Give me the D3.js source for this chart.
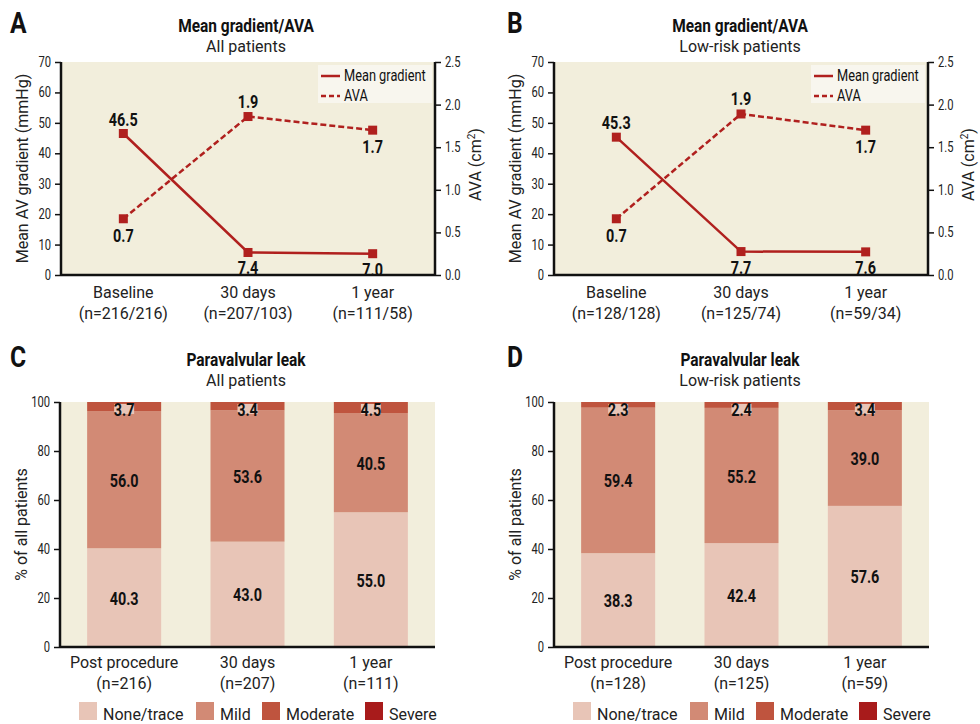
<!DOCTYPE html>
<html>
<head>
<meta charset="utf-8">
<script src="https://cdn.jsdelivr.net/npm/d3@7"></script>
<style>
  body { margin: 0; background: #fff; }
  svg { display: block; }
</style>
</head>
<body>
<div id="chart"></div>
<script>
// ---- data ----
const lineCats = ["Baseline", "30 days", "1 year"];
const lineNsAll = ["(n=216/216)", "(n=207/103)", "(n=111/58)"];
const lineNsLow = ["(n=128/128)", "(n=125/74)", "(n=59/34)"];
const gradientAll = [46.5, 7.4, 7.0];
const gradientLow = [45.3, 7.7, 7.6];
const avaAll = [0.66, 1.86, 1.70];
const avaLow = [0.66, 1.89, 1.70];
const leftTicks = [0, 10, 20, 30, 40, 50, 60, 70];
const rightTicks = [0, 0.5, 1.0, 1.5, 2.0, 2.5];

const barCats = ["Post procedure", "30 days", "1 year"];
const barNsAll = ["(n=216)", "(n=207)", "(n=111)"];
const barNsLow = ["(n=128)", "(n=125)", "(n=59)"];
const leakKeys = ["None/trace", "Mild", "Moderate", "Severe"];
const noneAll = [40.3, 43.0, 55.0];
const mildAll = [56.0, 53.6, 40.5];
const modAll = [3.7, 3.4, 4.5];
const sevAll = [0, 0, 0];
const noneLow = [38.3, 42.4, 57.6];
const mildLow = [59.4, 55.2, 39.0];
const modLow = [2.3, 2.4, 3.4];
const sevLow = [0, 0, 0];
const barTicks = [0, 20, 40, 60, 80, 100];

// ---- styles ----
const font = "Roboto, 'Liberation Sans', Arial, sans-serif";
const squeeze = 0.8; // fake a condensed face
const plotBg = "#f2eedc";
const red = "#b0201e";
const leakColors = ["#e8c5b7", "#d28a75", "#bf543e", "#a81b1b"];

const svg = d3.select("#chart").append("svg")
  .attr("width", 980).attr("height", 724);

// condensed text: squeezed horizontally around its anchor point
function ctext(x, y, txt, size, bold, anchor, k) {
  return svg.append("text")
    .attr("transform", `translate(${x},${y}) scale(${k || squeeze},1)`)
    .attr("text-anchor", anchor || "middle")
    .style("font-family", font).style("font-size", size + "px")
    .style("font-weight", bold ? "bold" : "normal")
    .attr("fill", "#111").text(txt);
}

function rtext(x, y, txt, anchor) {
  return svg.append("text").attr("x", x).attr("y", y).attr("text-anchor", anchor || "middle")
    .style("font-family", font).style("font-size", "16px").attr("fill", "#222").text(txt);
}

function panelHeader(letter, lx, ly, title, sub, cx, ty) {
  ctext(lx, ly, letter, 29, true, "start", 0.85);
  ctext(cx, ty, title, 18, true, "middle", 0.86);
  rtext(cx, ty + 20, sub);
}

function styleAxis(g, dir) {
  g.selectAll(".domain").attr("stroke", "#111").attr("stroke-width", 2.5);
  g.selectAll(".tick line").attr("stroke", "#111").attr("stroke-width", 1.5);
  g.selectAll(".tick text")
    .style("font-family", font).style("font-size", "14px").attr("fill", "#222")
    .attr("x", dir * 10 / squeeze)
    .attr("transform", `scale(${squeeze},1)`);
}

function catLabels(pos, cats, ns, y) {
  cats.forEach((c, i) => {
    const t = svg.append("text").attr("x", pos(c)).attr("y", y).attr("text-anchor", "middle")
      .style("font-family", font).style("font-size", "16px").attr("fill", "#222");
    t.append("tspan").attr("x", pos(c)).attr("dy", 0).text(c);
    t.append("tspan").attr("x", pos(c)).attr("dy", 21).text(ns[i]);
  });
}

function linePanel(o) {
  const x = d3.scalePoint().domain(lineCats).range([o.left, o.right]).padding(0.5);
  const yL = d3.scaleLinear().domain([0, 70]).range([o.bottom, o.top]);
  const yR = d3.scaleLinear().domain([0, 2.5]).range([o.bottom, o.top]);

  svg.append("rect").attr("x", o.left).attr("y", o.top)
    .attr("width", o.right - o.left).attr("height", o.bottom - o.top).attr("fill", plotBg);

  // legend box
  const lx = o.right - 117, ly = o.top + 3;
  svg.append("rect").attr("x", lx).attr("y", ly).attr("width", 114).attr("height", 38).attr("fill", "#f8f6ee");
  svg.append("line").attr("x1", lx + 3).attr("x2", lx + 22).attr("y1", ly + 11).attr("y2", ly + 11)
    .attr("stroke", red).attr("stroke-width", 2.5);
  svg.append("line").attr("x1", lx + 3).attr("x2", lx + 22).attr("y1", ly + 31).attr("y2", ly + 31)
    .attr("stroke", red).attr("stroke-width", 2.5).attr("stroke-dasharray", "5,3");
  ctext(lx + 26, ly + 16, "Mean gradient", 16, false, "start");
  ctext(lx + 26, ly + 36, "AVA", 16, false, "start");

  // lines
  const gLine = d3.line().x((d, i) => x(lineCats[i])).y(d => yL(d));
  const aLine = d3.line().x((d, i) => x(lineCats[i])).y(d => yR(d));
  svg.append("path").datum(o.ava).attr("d", aLine).attr("fill", "none")
    .attr("stroke", red).attr("stroke-width", 2.5).attr("stroke-dasharray", "6,3");
  svg.append("path").datum(o.grad).attr("d", gLine).attr("fill", "none")
    .attr("stroke", red).attr("stroke-width", 2.5);

  const sq = 9;
  o.grad.forEach((d, i) => {
    svg.append("rect").attr("x", x(lineCats[i]) - sq / 2).attr("y", yL(d) - sq / 2)
      .attr("width", sq).attr("height", sq).attr("fill", red);
  });
  o.ava.forEach((d, i) => {
    svg.append("rect").attr("x", x(lineCats[i]) - sq / 2).attr("y", yR(d) - sq / 2)
      .attr("width", sq).attr("height", sq).attr("fill", red);
  });

  // value labels
  o.grad.forEach((d, i) => {
    if (i === 0) ctext(x(lineCats[i]), yL(d) - 8, d.toFixed(1), 18, true);
    else ctext(x(lineCats[i]), yL(d) + 22, d.toFixed(1), 18, true);
  });
  o.ava.forEach((d, i) => {
    if (i === 1) ctext(x(lineCats[i]), yR(d) - 9, d.toFixed(1), 18, true);
    else ctext(x(lineCats[i]), yR(d) + 23, d.toFixed(1), 18, true);
  });

  // axes
  const ax = svg.append("g").attr("transform", `translate(${o.left},0)`)
    .call(d3.axisLeft(yL).tickValues(leftTicks).tickSize(6).tickPadding(4));
  styleAxis(ax, -1);
  ax.select(".domain").attr("d", `M0,${o.top}V${o.bottom}`);
  const ar = svg.append("g").attr("transform", `translate(${o.right},0)`)
    .call(d3.axisRight(yR).tickValues(rightTicks).tickFormat(d3.format(".1f")).tickSize(6).tickPadding(4));
  styleAxis(ar, 1);
  ar.select(".domain").attr("d", `M0,${o.top}V${o.bottom}`);
  svg.append("line").attr("x1", o.left).attr("x2", o.right).attr("y1", o.bottom).attr("y2", o.bottom)
    .attr("stroke", "#111").attr("stroke-width", 2.5);

  // axis titles
  svg.append("text").attr("transform", `translate(${o.left - 33},${(o.top + o.bottom) / 2}) rotate(-90)`)
    .attr("text-anchor", "middle").style("font-family", font).style("font-size", "16px").attr("fill", "#222")
    .text("Mean AV gradient (mmHg)");
  const rt = svg.append("text").attr("transform", `translate(${o.right + 46},${(o.top + o.bottom) / 2 - 4}) rotate(-90)`)
    .attr("text-anchor", "middle").style("font-family", font).style("font-size", "16px").attr("fill", "#222");
  rt.append("tspan").text("AVA (cm");
  rt.append("tspan").attr("dy", -6).style("font-size", "10px").text("2");
  rt.append("tspan").attr("dy", 6).text(")");

  catLabels(x, lineCats, o.ns, o.bottom + 23);
}

function barPanel(o) {
  const x = d3.scaleBand().domain(barCats).range([o.left, o.right]).paddingInner(0.4).paddingOuter(0.22);
  const y = d3.scaleLinear().domain([0, 100]).range([o.bottom, o.top]);
  const cx = d => x(d) + x.bandwidth() / 2;

  svg.append("rect").attr("x", o.left).attr("y", o.top)
    .attr("width", o.right - o.left).attr("height", o.bottom - o.top).attr("fill", plotBg);

  const rows = barCats.map((c, i) => ({
    cat: c, "None/trace": o.none[i], "Mild": o.mild[i], "Moderate": o.mod[i], "Severe": o.sev[i]
  }));
  const series = d3.stack().keys(leakKeys)(rows);
  series.forEach((s, k) => {
    svg.append("g").selectAll("rect").data(s).enter().append("rect")
      .attr("x", d => x(d.data.cat)).attr("width", x.bandwidth())
      .attr("y", d => y(d[1])).attr("height", d => y(d[0]) - y(d[1]))
      .attr("fill", leakColors[k]);
  });

  rows.forEach(r => {
    const n = r["None/trace"], m = r["Mild"], md = r["Moderate"];
    ctext(cx(r.cat), y(n / 2) + 7, n.toFixed(1), 18, true);
    ctext(cx(r.cat), y(n + m / 2) + 7, m.toFixed(1), 18, true);
    // moderate label with light backing
    svg.append("rect").attr("x", cx(r.cat) - 10).attr("y", y(100) + 2).attr("width", 20).attr("height", 10)
      .attr("fill", leakColors[0]);
    ctext(cx(r.cat), y(100) + 14, md.toFixed(1), 18, true);
  });

  const ax = svg.append("g").attr("transform", `translate(${o.left},0)`)
    .call(d3.axisLeft(y).tickValues(barTicks).tickSize(6).tickPadding(4));
  styleAxis(ax, -1);
  ax.select(".domain").attr("d", `M0,${o.top}V${o.bottom}`);
  svg.append("line").attr("x1", o.left).attr("x2", o.right).attr("y1", o.bottom).attr("y2", o.bottom)
    .attr("stroke", "#111").attr("stroke-width", 2.5);

  svg.append("text").attr("transform", `translate(${o.left - 33},${(o.top + o.bottom) / 2}) rotate(-90)`)
    .attr("text-anchor", "middle").style("font-family", font).style("font-size", "16px").attr("fill", "#222")
    .text("% of all patients");

  catLabels(cx, barCats, o.ns, o.bottom + 21);

  // legend
  const lx = [o.left + 19, o.left + 136, o.left + 202, o.left + 305];
  leakKeys.forEach((k, i) => {
    svg.append("rect").attr("x", lx[i]).attr("y", o.bottom + 55).attr("width", 18).attr("height", 18)
      .attr("fill", leakColors[i]);
    rtext(lx[i] + 24, o.bottom + 73, k, "start");
  });
}

panelHeader("A", 10, 33, "Mean gradient/AVA", "All patients", 246, 32);
linePanel({ left: 61, right: 435, top: 62, bottom: 275, grad: gradientAll, ava: avaAll, ns: lineNsAll });
panelHeader("B", 507, 33, "Mean gradient/AVA", "Low-risk patients", 740, 32);
linePanel({ left: 554, right: 928, top: 62, bottom: 275, grad: gradientLow, ava: avaLow, ns: lineNsLow });
panelHeader("C", 10, 367, "Paravalvular leak", "All patients", 246, 366);
barPanel({ left: 60, right: 435, top: 402, bottom: 647, none: noneAll, mild: mildAll, mod: modAll, sev: sevAll, ns: barNsAll });
panelHeader("D", 507, 367, "Paravalvular leak", "Low-risk patients", 740, 366);
barPanel({ left: 554, right: 929, top: 402, bottom: 647, none: noneLow, mild: mildLow, mod: modLow, sev: sevLow, ns: barNsLow });
</script>
</body>
</html>
